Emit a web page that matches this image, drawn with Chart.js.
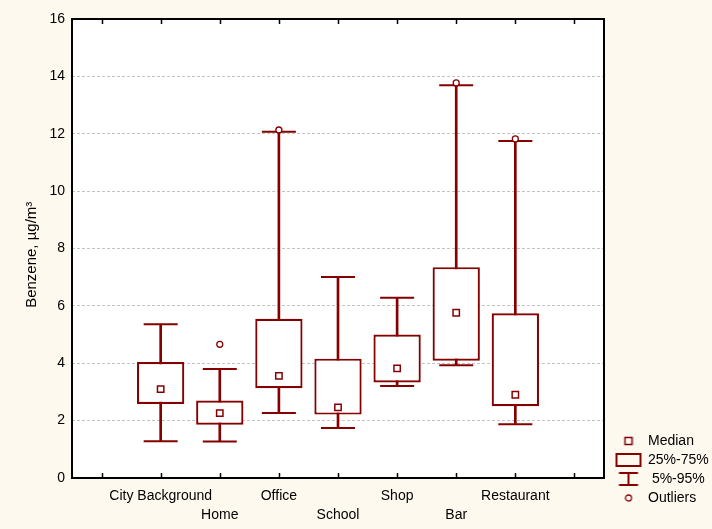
<!DOCTYPE html>
<html>
<head>
<meta charset="utf-8">
<title>Benzene by microenvironment</title>
<script src="https://cdn.jsdelivr.net/npm/chart.js@4.4.0/dist/chart.umd.min.js"></script>
<style>
  body { margin: 0; background: #fef9ef; }
  canvas { display: block; }
</style>
</head>
<body>
<canvas id="benzeneChart" width="712" height="529"></canvas>
<script>
// benzene concentrations, ug/m3, per microenvironment
var categories = ['City Background', 'Home', 'Office', 'School', 'Shop', 'Bar', 'Restaurant'];
var p05 = [1.28, 1.27, 2.27, 1.74, 3.21, 3.93, 1.87];
var q25 = [2.58, 1.86, 3.13, 2.21, 3.33, 4.09, 2.50];
var median = [3.10, 2.26, 3.56, 2.46, 3.82, 5.76, 2.90];
var q75 = [4.04, 2.70, 5.55, 4.16, 5.00, 7.35, 5.74];
var p95 = [5.36, 3.80, 12.07, 7.01, 6.28, 13.69, 11.75];
var outliers = [null, 4.66, 12.13, null, null, 13.77, 11.82];

var yMin = 0;
var yMax = 16;
var yStep = 2;
var legendNames = ['Median', '25%-75%', ' 5%-95%', 'Outliers'];

var red = '#850000';
var paper = '#fef9ef';

// empty slot at each end of the axis
function pad(arr){
	return [null].concat(arr, [null]);
}

// every other label goes on the second line
var xLabels = [''].concat(categories.map(function(name, i){
	return i % 2 === 0 ? [name] : ['', name];
}), ['']);

var ranges = function(lo, hi){
	return lo.map(function(v, i){ return [v, hi[i]]; });
};

function makeIcon(w, h, draw){
	var shift = 7;
	var c = document.createElement('canvas');
	c.width = w + shift;
	c.height = h;
	var g = c.getContext('2d');
	g.translate(shift, 0);
	g.strokeStyle = red;
	g.fillStyle = '#fff';
	draw(g);
	return c;
}

var legendIcons = [
	makeIcon(10, 10, function(g){
		g.lineWidth = 1.5;
		g.fillRect(1.5, 1.5, 7, 7);
		g.strokeRect(1.5, 1.5, 7, 7);
	}),
	makeIcon(28, 16, function(g){
		g.lineWidth = 2;
		g.strokeRect(2, 2, 24, 12);
	}),
	makeIcon(22, 16, function(g){
		g.lineWidth = 2;
		g.beginPath();
		g.moveTo(1.5, 2); g.lineTo(20.5, 2);
		g.moveTo(1.5, 14); g.lineTo(20.5, 14);
		g.moveTo(11, 2); g.lineTo(11, 14);
		g.stroke();
	}),
	makeIcon(10, 10, function(g){
		g.lineWidth = 1.3;
		g.beginPath();
		g.arc(5, 5, 3, 0, Math.PI * 2);
		g.fill();
		g.stroke();
	})
];

// cream page, white plot area
var paperPlugin = {
	id: 'paper',
	beforeDraw: function(chart){
		var ctx = chart.ctx, a = chart.chartArea;
		ctx.save();
		ctx.fillStyle = paper;
		ctx.fillRect(0, 0, chart.width, chart.height);
		ctx.fillStyle = '#fff';
		ctx.fillRect(a.left, a.top, a.right - a.left, a.bottom - a.top);
		ctx.restore();
	}
};

// black frame with inward tick marks top and bottom
var framePlugin = {
	id: 'frame',
	afterDraw: function(chart){
		var ctx = chart.ctx, a = chart.chartArea, xs = chart.scales.x;
		ctx.save();
		ctx.strokeStyle = '#000';
		ctx.lineWidth = 1.5;
		ctx.beginPath();
		xs.ticks.forEach(function(t, i){
			var px = Math.round(xs.getPixelForTick(i)) + 0.5;
			ctx.moveTo(px, a.top);
			ctx.lineTo(px, a.top + 5);
			ctx.moveTo(px, a.bottom);
			ctx.lineTo(px, a.bottom - 5);
		});
		ctx.stroke();
		ctx.lineWidth = 2;
		ctx.strokeRect(a.left, a.top, a.right - a.left, a.bottom - a.top);
		ctx.restore();
	}
};

Chart.defaults.font.family = 'Arial, "Liberation Sans", sans-serif';
Chart.defaults.font.size = 14;
Chart.defaults.color = '#000';

var ctx = document.getElementById('benzeneChart');
var benzeneChart = new Chart(ctx, {
	type: 'bar',
	data: {
		labels: xLabels,
		datasets: [{
			label: '5%-95%',
			data: pad(ranges(p05, p95)),
			backgroundColor: red,
			borderWidth: 0,
			barThickness: 2,
			grouped: false,
			order: 5
		}, {
			label: '25%-75%',
			data: pad(ranges(q25, q75)),
			backgroundColor: '#fff',
			borderColor: red,
			borderWidth: 2.2,
			borderSkipped: false,
			barPercentage: 0.8,
			categoryPercentage: 1,
			grouped: false,
			order: 4
		}, {
			type: 'line',
			label: '5%',
			data: pad(p05),
			showLine: false,
			pointStyle: 'line',
			pointRadius: 17,
			pointBorderWidth: 2,
			pointBorderColor: red,
			order: 3
		}, {
			type: 'line',
			label: '95%',
			data: pad(p95),
			showLine: false,
			pointStyle: 'line',
			pointRadius: 17,
			pointBorderWidth: 2,
			pointBorderColor: red,
			order: 3
		}, {
			type: 'line',
			label: 'Median',
			data: pad(median),
			showLine: false,
			pointStyle: 'rect',
			pointRadius: 4.5,
			pointBorderWidth: 1.5,
			pointBorderColor: red,
			pointBackgroundColor: '#fff',
			order: 1
		}, {
			type: 'line',
			label: 'Outliers',
			data: pad(outliers),
			showLine: false,
			pointStyle: 'circle',
			pointRadius: 3,
			pointBorderWidth: 1.3,
			pointBorderColor: red,
			pointBackgroundColor: '#fff',
			order: 1
		}]
	},
	options: {
		responsive: false,
		animation: false,
		layout: {
			padding: { top: 15, left: 0, right: 0, bottom: 0 }
		},
		scales: {
			x: {
				offset: true,
				grid: { display: false },
				border: { display: false },
				ticks: {
					autoSkip: false,
					maxRotation: 0,
					minRotation: 0,
					padding: 1,
					font: { size: 14, lineHeight: 1.32 }
				},
				afterFit: function(scale){ scale.height = 51; }
			},
			y: {
				min: yMin,
				max: yMax,
				ticks: { stepSize: yStep, padding: 7 },
				grid: { color: '#c4c4c4', lineWidth: 1, drawTicks: false },
				border: { display: false, dash: [3, 2] },
				title: {
					display: true,
					text: 'Benzene, µg/m³   ',
					font: { size: 15 },
					padding: { top: 23, bottom: 9 }
				},
				afterFit: function(scale){ scale.width = 72; }
			}
		},
		plugins: {
			tooltip: { enabled: false },
			legend: {
				position: 'right',
				align: 'end',
				maxWidth: 108,
				onClick: function(){},
				labels: {
					usePointStyle: true,
					pointStyleWidth: 32,
					padding: 5,
					font: { size: 14 },
					generateLabels: function(){
						var items = legendNames.map(function(name, i){
							return { text: name, pointStyle: legendIcons[i], hidden: false, lineWidth: 0 };
						});
						// spacer row keeps the key clear of the bottom edge
						items.push({ text: '', pointStyle: makeIcon(1, 1, function(){}), hidden: false, lineWidth: 0 });
						return items;
					}
				}
			}
		}
	},
	plugins: [paperPlugin, framePlugin]
});
</script>
</body>
</html>
